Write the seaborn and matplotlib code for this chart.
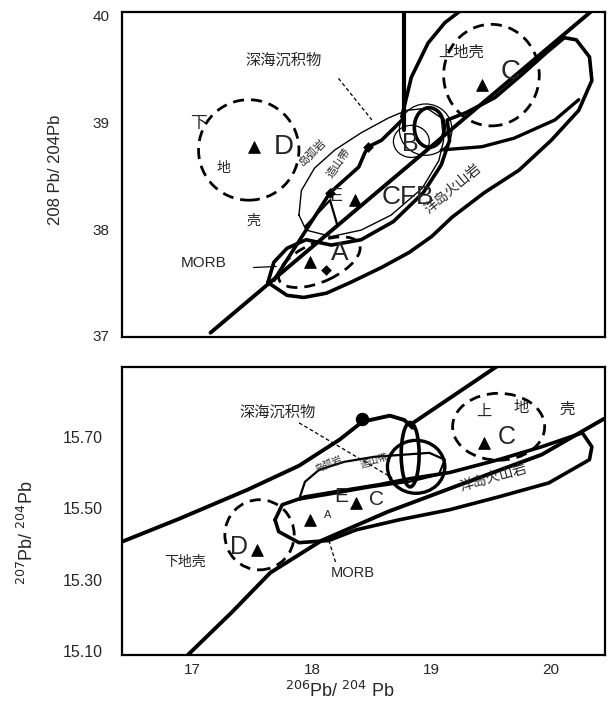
import numpy as np
import pandas as pd
import seaborn as sns
import matplotlib
matplotlib.use("Agg")
import matplotlib.pyplot as plt
from matplotlib.patches import Ellipse

# ---------------- top panel : 208Pb/204Pb vs 206Pb/204Pb ----------------
ref_line_x = [17.15, 20.36]
ref_line_y = [37.03, 40.06]

vert_line_x = [18.77, 18.77]
vert_line_y = [38.93, 40.10]

crust_curve_x = [18.75, 18.83, 18.97, 19.11, 19.25]
crust_curve_y = [39.05, 39.42, 39.74, 39.93, 40.05]

# ocean island basalt field outline
oib_top_x = [17.63, 17.79, 17.93, 18.12, 18.32, 18.58, 18.81, 19.00, 19.17, 19.44,
             19.73, 20.00, 20.23, 20.34, 20.32, 20.21, 20.11, 19.96, 19.75, 19.53,
             19.29, 19.13, 19.15, 19.08, 18.93, 18.68, 18.41, 18.16, 17.95, 17.79,
             17.68, 17.63]
oib_top_y = [37.50, 37.38, 37.36, 37.40, 37.50, 37.64, 37.78, 37.93, 38.11, 38.34,
             38.55, 38.83, 39.11, 39.39, 39.61, 39.77, 39.79, 39.65, 39.44, 39.23,
             39.09, 39.02, 38.83, 38.60, 38.34, 38.07, 37.90, 37.85, 37.90, 37.82,
             37.69, 37.50]

inner_top_x = [19.08, 19.42, 19.69, 20.03, 20.23]
inner_top_y = [38.74, 38.77, 38.85, 39.02, 39.21]

# thin field around E / CFB
cfb_top_x = [17.89, 17.91, 18.02, 18.19, 18.41, 18.64, 18.79, 18.96, 19.08, 19.10,
             19.06, 18.92, 18.66, 18.41, 18.16, 17.95, 17.89]
cfb_top_y = [38.13, 38.36, 38.57, 38.74, 38.90, 39.04, 39.11, 39.13, 39.04, 38.83,
             38.64, 38.38, 38.13, 37.99, 37.93, 37.99, 38.13]

mix_top_x = [17.68, 18.15, 18.27, 18.39, 18.44, 18.47, 18.58, 18.69, 18.77]
mix_top_y = [37.52, 38.34, 38.46, 38.58, 38.71, 38.77, 38.83, 38.95, 39.04]

link_top_x = [17.94, 18.15, 18.21]
link_top_y = [38.02, 38.27, 38.04]

tri_top_x = [17.51, 19.42, 17.98, 18.36]
tri_top_y = [38.77, 39.35, 37.69, 38.27]
dot_top_x = [18.12, 18.15, 18.47]
dot_top_y = [37.62, 38.34, 38.77]

# ---------------- bottom panel : 207Pb/204Pb vs 206Pb/204Pb ----------------
upper_bot_x = [16.39, 16.89, 17.46, 17.89, 18.23, 18.42, 18.65, 18.77, 18.84]
upper_bot_y = [15.404, 15.471, 15.552, 15.619, 15.692, 15.742, 15.759, 15.747, 15.725]

v_bot_x = [18.85, 19.56]
v_bot_y = [15.74, 15.90]

lower_bot_x = [16.96, 17.33, 17.65, 18.08, 18.63, 19.27, 19.92, 20.44]
lower_bot_y = [15.09, 15.21, 15.32, 15.41, 15.49, 15.57, 15.65, 15.75]

oib_bot_x = [17.69, 17.75, 17.94, 18.30, 18.56, 18.82, 19.15, 19.56, 19.92, 20.26,
             20.34, 20.32, 19.98, 19.56, 19.15, 18.73, 18.37, 18.14, 17.89, 17.72, 17.69]
oib_bot_y = [15.468, 15.510, 15.532, 15.552, 15.566, 15.583, 15.600, 15.636, 15.672, 15.711,
             15.672, 15.636, 15.571, 15.532, 15.496, 15.468, 15.440, 15.410, 15.404, 15.435, 15.468]

oro_bot_x = [17.89, 17.94, 18.06, 18.27, 18.52, 18.77, 18.98, 19.11, 19.06, 18.81,
             18.48, 18.14, 17.89]
oro_bot_y = [15.524, 15.574, 15.608, 15.630, 15.644, 15.650, 15.655, 15.636, 15.594, 15.574,
             15.558, 15.538, 15.524]

tri_bot_x = [17.98, 18.37, 17.54, 19.44]
tri_bot_y = [15.468, 15.516, 15.384, 15.683]
dot_bot_x = [18.42]
dot_bot_y = [15.75]

x_ticks = [17, 18, 19, 20]
top_yticks = [37, 38, 39, 40]
bot_yticks = [15.10, 15.30, 15.50, 15.70]
bot_ytick_labels = ["15.10", "15.30", "15.50", "15.70"]

sns.set_style("white")
plt.rcParams['font.family'] = ['Liberation Sans', 'Noto Sans CJK SC']


def draw(ax, xs, ys, lw=2.6, ls='-'):
    sns.lineplot(x=np.array(xs), y=np.array(ys), ax=ax, sort=False, estimator=None,
                 color='black', linewidth=lw, linestyle=ls, legend=False)


def ring(ax, cx, cy, w, h, angle=0, lw=2.0, ls='-'):
    ax.add_patch(Ellipse((cx, cy), w, h, angle=angle, fill=False,
                         edgecolor='black', linewidth=lw, linestyle=ls))


dash = (0, (4, 2.5))

fig = plt.figure(figsize=(6.08, 7.04), dpi=100)
ax1 = fig.add_axes([0.2007, 0.5213, 0.7944, 0.4616])
ax2 = fig.add_axes([0.2007, 0.0696, 0.7944, 0.4091])

# ---------- top ----------
draw(ax1, ref_line_x, ref_line_y, lw=2.8)
draw(ax1, vert_line_x, vert_line_y, lw=3.0)
draw(ax1, crust_curve_x, crust_curve_y, lw=2.6)
draw(ax1, oib_top_x, oib_top_y, lw=2.6)
draw(ax1, inner_top_x, inner_top_y, lw=2.4)
draw(ax1, cfb_top_x, cfb_top_y, lw=1.0)
draw(ax1, mix_top_x, mix_top_y, lw=2.6)
draw(ax1, link_top_x, link_top_y, lw=1.6)
draw(ax1, [18.22, 18.50], [39.41, 39.02], lw=0.9, ls=(0, (3, 2)))
draw(ax1, [17.51, 17.70], [37.64, 37.65], lw=0.9)

ring(ax1, 17.47, 38.74, 0.84, 0.94, lw=2.0, ls=dash)
ring(ax1, 19.50, 39.44, 0.80, 0.95, lw=2.0, ls=dash)
ring(ax1, 18.06, 37.69, 0.75, 0.36, angle=28, lw=2.0, ls=dash)
ring(ax1, 18.98, 38.95, 0.25, 0.37, lw=2.6)
ring(ax1, 18.83, 38.82, 0.30, 0.30, lw=0.9)
ring(ax1, 18.95, 38.93, 0.44, 0.48, lw=0.9)

sns.scatterplot(x=tri_top_x, y=tri_top_y, ax=ax1, marker='^', s=70, color='black',
                edgecolor='black', legend=False, zorder=5)
sns.scatterplot(x=dot_top_x, y=dot_top_y, ax=ax1, marker='D', s=25, color='black',
                edgecolor='black', legend=False, zorder=5)

ax1.text(17.76, 39.58, "深海沉积物", fontsize=11, ha='center', va='center')
ax1.text(17.05, 38.99, "下", fontsize=12, ha='center', va='center')
ax1.text(17.26, 38.57, "地", fontsize=10, ha='center', va='center')
ax1.text(17.51, 38.08, "壳", fontsize=10, ha='center', va='center')
ax1.text(17.76, 38.77, "D", fontsize=20, ha='center', va='center')
ax1.text(19.25, 39.65, "上地壳", fontsize=11, ha='center', va='center')
ax1.text(19.66, 39.47, "C", fontsize=20, ha='center', va='center')
ax1.text(18.82, 38.80, "B", fontsize=18, ha='center', va='center')
ax1.text(18.80, 38.30, "CFB", fontsize=19, ha='center', va='center')
ax1.text(18.20, 38.30, "E", fontsize=14, ha='center', va='center')
ax1.text(18.23, 37.78, "A", fontsize=19, ha='center', va='center')
ax1.text(17.09, 37.68, "MORB", fontsize=11, ha='center', va='center')
ax1.text(19.18, 38.38, "洋岛火山岩", fontsize=10, ha='center', va='center', rotation=40)
ax1.text(18.00, 38.72, "岛弧岩", fontsize=8, ha='center', va='center', rotation=45)
ax1.text(18.22, 38.62, "造山带", fontsize=8, ha='center', va='center', rotation=55)

ax1.set_xlim(16.41, 20.45)
ax1.set_ylim(36.99, 40.03)
ax1.set_xticks(x_ticks)
ax1.set_xticklabels([])
ax1.set_yticks(top_yticks)
ax1.set_yticklabels([str(v) for v in top_yticks])
ax1.tick_params(direction='in', length=8, width=1.5, labelsize=11, pad=9)

# ---------- bottom ----------
draw(ax2, upper_bot_x, upper_bot_y, lw=2.8)
draw(ax2, v_bot_x, v_bot_y, lw=2.8)
draw(ax2, lower_bot_x, lower_bot_y, lw=2.8)
draw(ax2, oib_bot_x, oib_bot_y, lw=2.6)
draw(ax2, oro_bot_x, oro_bot_y, lw=1.6)
draw(ax2, [17.89, 18.67], [15.739, 15.585], lw=0.9, ls=(0, (3, 2)))
draw(ax2, [18.14, 18.20], [15.41, 15.345], lw=0.9, ls=(0, (3, 2)))

ring(ax2, 17.56, 15.426, 0.58, 0.196, lw=2.0, ls=dash)
ring(ax2, 19.56, 15.728, 0.77, 0.187, lw=2.0, ls=dash)
ring(ax2, 18.82, 15.650, 0.15, 0.18, lw=2.6)
ring(ax2, 18.87, 15.616, 0.48, 0.148, lw=2.4)

sns.scatterplot(x=tri_bot_x, y=tri_bot_y, ax=ax2, marker='^', s=70, color='black',
                edgecolor='black', legend=False, zorder=5)
sns.scatterplot(x=dot_bot_x, y=dot_bot_y, ax=ax2, marker='o', s=80, color='black',
                edgecolor='black', legend=False, zorder=5)

ax2.text(17.71, 15.767, "深海沉积物", fontsize=11, ha='center', va='center')
ax2.text(16.94, 15.351, "下地壳", fontsize=10, ha='center', va='center')
ax2.text(17.39, 15.393, "D", fontsize=18, ha='center', va='center')
ax2.text(19.63, 15.700, "C", fontsize=18, ha='center', va='center')
ax2.text(19.44, 15.770, "上", fontsize=11, ha='center', va='center')
ax2.text(19.75, 15.780, "地", fontsize=11, ha='center', va='center')
ax2.text(20.13, 15.775, "壳", fontsize=11, ha='center', va='center')
ax2.text(18.34, 15.320, "MORB", fontsize=10.5, ha='center', va='center')
ax2.text(18.24, 15.532, "E", fontsize=15, ha='center', va='center')
ax2.text(18.54, 15.524, "C", fontsize=15, ha='center', va='center')
ax2.text(18.13, 15.482, "A", fontsize=8, ha='center', va='center')
ax2.text(19.52, 15.585, "洋岛火山岩", fontsize=10, ha='center', va='center', rotation=16)
ax2.text(18.14, 15.625, "岛弧岩", fontsize=7, ha='center', va='center', rotation=22)
ax2.text(18.52, 15.633, "造山带", fontsize=7, ha='center', va='center', rotation=18)

ax2.set_xlim(16.41, 20.45)
ax2.set_ylim(15.09, 15.895)
ax2.set_xticks(x_ticks)
ax2.set_xticklabels([str(v) for v in x_ticks])
ax2.set_yticks(bot_yticks)
ax2.set_yticklabels(bot_ytick_labels)
ax2.tick_params(axis='x', direction='in', length=9, width=1.5, labelsize=11, pad=6)
ax2.tick_params(axis='y', direction='in', length=8, width=1.5, labelsize=11.5, pad=14)

for ax in (ax1, ax2):
    ax.set_xlabel("")
    ax.set_ylabel("")
    for sp in ax.spines.values():
        sp.set_linewidth(1.6)
        sp.set_color('black')

fig.text(0.0905, 0.7585, "208 Pb/ 204Pb", rotation=90, fontsize=12, ha='center', va='center')
fig.text(0.044, 0.244, r"$^{207}$Pb/ $^{204}$Pb", rotation=90, fontsize=13, ha='center', va='center')
fig.text(0.559, 0.018, r"$^{206}$Pb/ $^{204}$ Pb", fontsize=13, ha='center', va='center')

fig.set_facecolor('white')
plt.savefig("out.png", dpi=100, facecolor='white')
plt.close(fig)
